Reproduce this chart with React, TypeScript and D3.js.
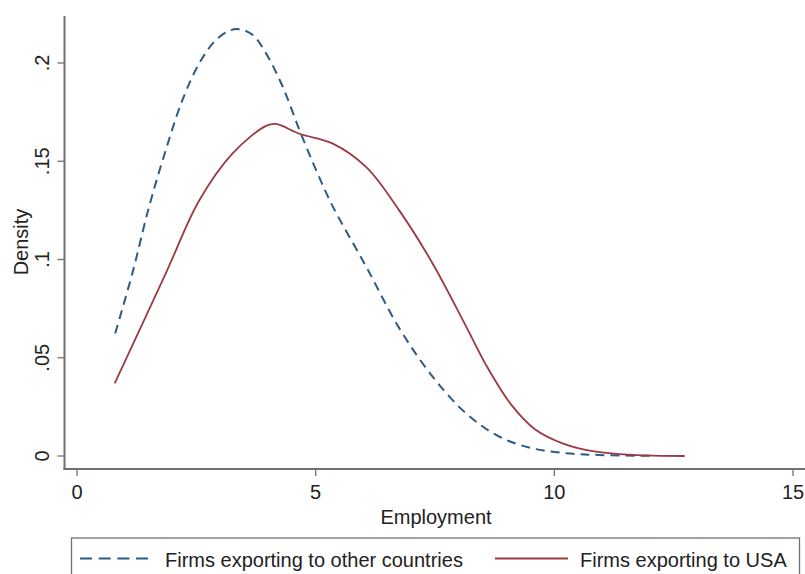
import React from "react";
import * as d3 from "d3";

const otherX = [0.8, 1.16, 1.51, 1.86, 2.21, 2.56, 2.91, 3.2, 3.4, 3.68, 3.96, 4.31, 4.66, 5.01, 5.36, 6.06, 6.75, 7.45, 8.15, 8.85, 9.54, 10.25, 10.95, 12.0];
const otherY = [0.0624, 0.093, 0.1269, 0.1557, 0.1812, 0.1998, 0.2117, 0.2165, 0.2172, 0.2143, 0.2049, 0.1879, 0.1659, 0.1455, 0.1269, 0.0963, 0.0651, 0.0404, 0.0217, 0.0098, 0.0039, 0.0014, 0.0005, 0.0001];
const usaX = [0.79, 1.86, 2.56, 3.26, 3.96, 4.17, 4.66, 5.36, 6.06, 6.75, 7.45, 8.15, 8.6, 9.1, 9.6, 10.2, 10.8, 11.64, 12.73];
const usaY = [0.037, 0.093, 0.13, 0.154, 0.168, 0.169, 0.164, 0.159, 0.147, 0.125, 0.098, 0.066, 0.045, 0.026, 0.0135, 0.0062, 0.0025, 0.0006, 0.0];
const xTicks = [0, 5, 10, 15];
const yTicks = [0, 0.05, 0.1, 0.15, 0.2];
const yTickLabels = ["0", ".05", ".1", ".15", ".2"];
const seriesNames = ["Firms exporting to other countries", "Firms exporting to USA"];

const BLUE = "#2b5b86";
const RED = "#9b3a44";
const AXIS = "#707070";
const FONT = "'Liberation Sans', Arial, Helvetica, sans-serif";
const FS = 20;

export default function App() {
  const W = 805, H = 574;
  const x = d3.scaleLinear().domain([0, 15]).range([77, 793]);
  const y = d3.scaleLinear().domain([0, 0.2]).range([456, 63]);
  const line = d3
    .line<[number, number]>()
    .x((d) => x(d[0]))
    .y((d) => y(d[1]))
    .curve(d3.curveCatmullRom.alpha(0.5));
  const other = otherX.map((v, i) => [v, otherY[i]] as [number, number]);
  const usa = usaX.map((v, i) => [v, usaY[i]] as [number, number]);
  const axisY = 469;
  const axisX = 64.5;
  return (
    <svg width={W} height={H} style={{ position: "absolute", left: 0, top: 0, background: "#fff" }}>
      <rect x={0} y={0} width={W} height={H} fill="#fff" />
      {/* y axis */}
      <line x1={axisX} x2={axisX} y1={16} y2={axisY + 1} stroke={AXIS} strokeWidth={2} />
      {yTicks.map((t, i) => (
        <g key={"y" + i}>
          <line x1={axisX - 7} x2={axisX} y1={y(t)} y2={y(t)} stroke={AXIS} strokeWidth={1.3} />
          <text
            transform={`translate(${49},${y(t)}) rotate(-90)`}
            textAnchor="middle"
            fontFamily={FONT}
            fontSize={FS}
            fill="#222"
          >
            {yTickLabels[i]}
          </text>
        </g>
      ))}
      <text
        transform={`translate(${27.5},${242}) rotate(-90)`}
        textAnchor="middle"
        fontFamily={FONT}
        fontSize={FS}
        fill="#222"
      >
        Density
      </text>
      {/* x axis */}
      <line x1={axisX - 1} x2={W} y1={axisY} y2={axisY} stroke={AXIS} strokeWidth={2} />
      {xTicks.map((t, i) => (
        <g key={"x" + i}>
          <line x1={x(t)} x2={x(t)} y1={axisY} y2={axisY + 7} stroke={AXIS} strokeWidth={1.3} />
          <text x={x(t)} y={498.5} textAnchor="middle" fontFamily={FONT} fontSize={FS} fill="#222">
            {t}
          </text>
        </g>
      ))}
      <text x={436} y={523.5} textAnchor="middle" fontFamily={FONT} fontSize={FS} fill="#222">
        Employment
      </text>
      {/* curves */}
      <path d={line(other) || ""} fill="none" stroke={BLUE} strokeWidth={2} strokeDasharray="9,6" />
      <path d={line(usa) || ""} fill="none" stroke={RED} strokeWidth={1.8} />
      {/* legend */}
      <rect x={71.5} y={538} width={728} height={60} fill="#fff" stroke={AXIS} strokeWidth={1.3} />
      <line x1={80} x2={148} y1={558.5} y2={558.5} stroke={BLUE} strokeWidth={2} strokeDasharray="12,6.7" />
      <text x={165} y={566.5} fontFamily={FONT} fontSize={FS} fill="#222">
        {seriesNames[0]}
      </text>
      <line x1={495} x2={568} y1={558.5} y2={558.5} stroke={RED} strokeWidth={1.8} />
      <text x={580} y={566.5} fontFamily={FONT} fontSize={FS} fill="#222">
        {seriesNames[1]}
      </text>
    </svg>
  );
}
